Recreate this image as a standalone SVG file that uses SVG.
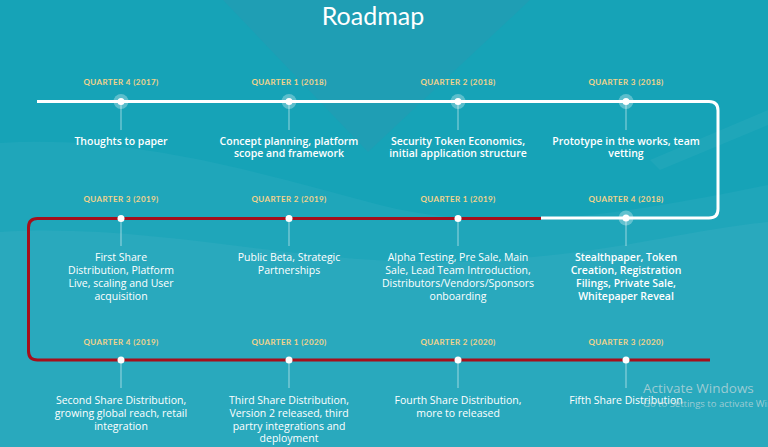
<svg xmlns="http://www.w3.org/2000/svg" width="768" height="447" viewBox="0 0 768 447">
<style>
.q{font-family:Lato,"Liberation Sans",sans-serif;font-size:8px;font-weight:bold;fill:#f2d38c;text-anchor:middle;letter-spacing:0.4px}
.d{font-family:"Open Sans","Liberation Sans",sans-serif;font-size:10.5px;fill:#ffffff;text-anchor:middle}
.b{font-weight:600}
.stem{stroke:#ffffff;stroke-opacity:0.35;stroke-width:1.6}
.halo{fill:#ffffff;fill-opacity:0.3}
.dot{fill:#ffffff}
.wm{font-family:"Open Sans","Noto Sans",sans-serif;fill:#cfdcde;fill-opacity:0.7}
</style>
<rect x="0" y="0" width="768" height="447" fill="#16a3b7"/>
<polygon points="223,0 530,0 368,152" fill="#1f9eb4"/>
<path d="M0,143 C130,135 250,170 380,205 C500,235 620,215 768,185 L768,447 L0,447 Z" fill="#1fa6ba"/>
<path d="M0,232 C150,222 300,265 450,262 C600,258 680,230 768,222 L768,447 L0,447 Z" fill="#29a9bd"/>
<path d="M650,160 L768,110 L768,125 L660,170 Z" fill="#ffffff" fill-opacity="0.04"/>
<text x="373" y="25" font-family="Lato,'Liberation Sans',sans-serif" font-size="25" fill="#ffffff" text-anchor="middle">Roadmap</text>

<g id="connectors" fill="none">
<path d="M37,101.5 H709 Q718,101.5 718,110.5 V209 Q718,218 709,218 H541" stroke="#ffffff" stroke-width="3"/>
<path d="M541,218.5 H37.5 Q28.5,218.5 28.5,227.5 V351 Q28.5,360 37.5,360 H710" stroke="#a50f1b" stroke-width="3"/>
<g class="stem">
<line x1="121" y1="101" x2="121" y2="130"/><line x1="289" y1="101" x2="289" y2="130"/><line x1="458" y1="101" x2="458" y2="130"/><line x1="626" y1="101" x2="626" y2="130"/>
<line x1="121" y1="218" x2="121" y2="246"/><line x1="289" y1="218" x2="289" y2="246"/><line x1="458" y1="218" x2="458" y2="246"/><line x1="626" y1="218" x2="626" y2="246"/>
<line x1="121" y1="360" x2="121" y2="388"/><line x1="289" y1="360" x2="289" y2="388"/><line x1="458" y1="360" x2="458" y2="388"/><line x1="626" y1="360" x2="626" y2="388"/>
</g>
</g>

<g id="q4-2017"><circle class="halo" cx="121" cy="101.5" r="7.5"/><circle class="dot" cx="121" cy="101.5" r="3.5"/>
<text class="q" x="121" y="85">QUARTER 4 (2017)</text>
<text class="d b" x="121" y="144.5">Thoughts to paper</text></g>
<g id="q1-2018"><circle class="halo" cx="289" cy="101.5" r="7.5"/><circle class="dot" cx="289" cy="101.5" r="3.5"/>
<text class="q" x="289" y="85">QUARTER 1 (2018)</text>
<text class="d b" x="289" y="144.5">Concept planning, platform</text><text class="d b" x="289" y="157">scope and framework</text></g>
<g id="q2-2018"><circle class="halo" cx="458" cy="101.5" r="7.5"/><circle class="dot" cx="458" cy="101.5" r="3.5"/>
<text class="q" x="458" y="85">QUARTER 2 (2018)</text>
<text class="d b" x="458" y="144.5">Security Token Economics,</text><text class="d b" x="458" y="157">initial application structure</text></g>
<g id="q3-2018"><circle class="halo" cx="626" cy="101.5" r="7.5"/><circle class="dot" cx="626" cy="101.5" r="3.5"/>
<text class="q" x="626" y="85">QUARTER 3 (2018)</text>
<text class="d b" x="626" y="144.5">Prototype in the works, team</text><text class="d b" x="626" y="157">vetting</text></g>

<g id="q3-2019"><circle class="dot" cx="121" cy="218.5" r="3.5"/>
<text class="q" x="121" y="202">QUARTER 3 (2019)</text>
<text class="d" x="121" y="260.5">First Share</text><text class="d" x="121" y="273.6">Distribution, Platform</text><text class="d" x="121" y="286.7">Live, scaling and User</text><text class="d" x="121" y="299.8">acquisition</text></g>
<g id="q2-2019"><circle class="dot" cx="289" cy="218.5" r="3.5"/>
<text class="q" x="289" y="202">QUARTER 2 (2019)</text>
<text class="d" x="289" y="260.5">Public Beta, Strategic</text><text class="d" x="289" y="273.6">Partnerships</text></g>
<g id="q1-2019"><circle class="dot" cx="458" cy="218.5" r="3.5"/>
<text class="q" x="458" y="202">QUARTER 1 (2019)</text>
<text class="d" x="458" y="260.5">Alpha Testing, Pre Sale, Main</text><text class="d" x="458" y="273.6">Sale, Lead Team Introduction,</text><text class="d" x="458" y="286.7">Distributors/Vendors/Sponsors</text><text class="d" x="458" y="299.8">onboarding</text></g>
<g id="q4-2018"><circle class="halo" cx="626" cy="218" r="7.5"/><circle class="dot" cx="626" cy="218" r="3.5"/>
<text class="q" x="626" y="202">QUARTER 4 (2018)</text>
<text class="d b" x="626" y="260.5">Stealthpaper, Token</text><text class="d b" x="626" y="273.6">Creation, Registration</text><text class="d b" x="626" y="286.7">Filings, Private Sale,</text><text class="d b" x="626" y="299.8">Whitepaper Reveal</text></g>

<g id="q4-2019"><circle class="dot" cx="121" cy="360" r="3.5"/>
<text class="q" x="121" y="345">QUARTER 4 (2019)</text>
<text class="d" x="121" y="404">Second Share Distribution,</text><text class="d" x="121" y="416.8">growing global reach, retail</text><text class="d" x="121" y="429.6">integration</text></g>
<g id="q1-2020"><circle class="dot" cx="289" cy="360" r="3.5"/>
<text class="q" x="289" y="345">QUARTER 1 (2020)</text>
<text class="d" x="289" y="404">Third Share Distribution,</text><text class="d" x="289" y="416.8">Version 2 released, third</text><text class="d" x="289" y="429.6">partry integrations and</text><text class="d" x="289" y="442.4">deployment</text></g>
<g id="q2-2020"><circle class="dot" cx="458" cy="360" r="3.5"/>
<text class="q" x="458" y="345">QUARTER 2 (2020)</text>
<text class="d" x="458" y="404">Fourth Share Distribution,</text><text class="d" x="458" y="416.8">more to released</text></g>
<g id="q3-2020"><circle class="dot" cx="626" cy="360" r="3.5"/>
<text class="q" x="626" y="345">QUARTER 3 (2020)</text>
<text class="d" x="626" y="404">Fifth Share Distribution</text></g>

<text class="wm" x="643" y="393" font-size="13.5">Activate Windows</text>
<text class="wm" x="643" y="407" font-size="9.5">Go to Settings to activate Windows.</text>
</svg>
